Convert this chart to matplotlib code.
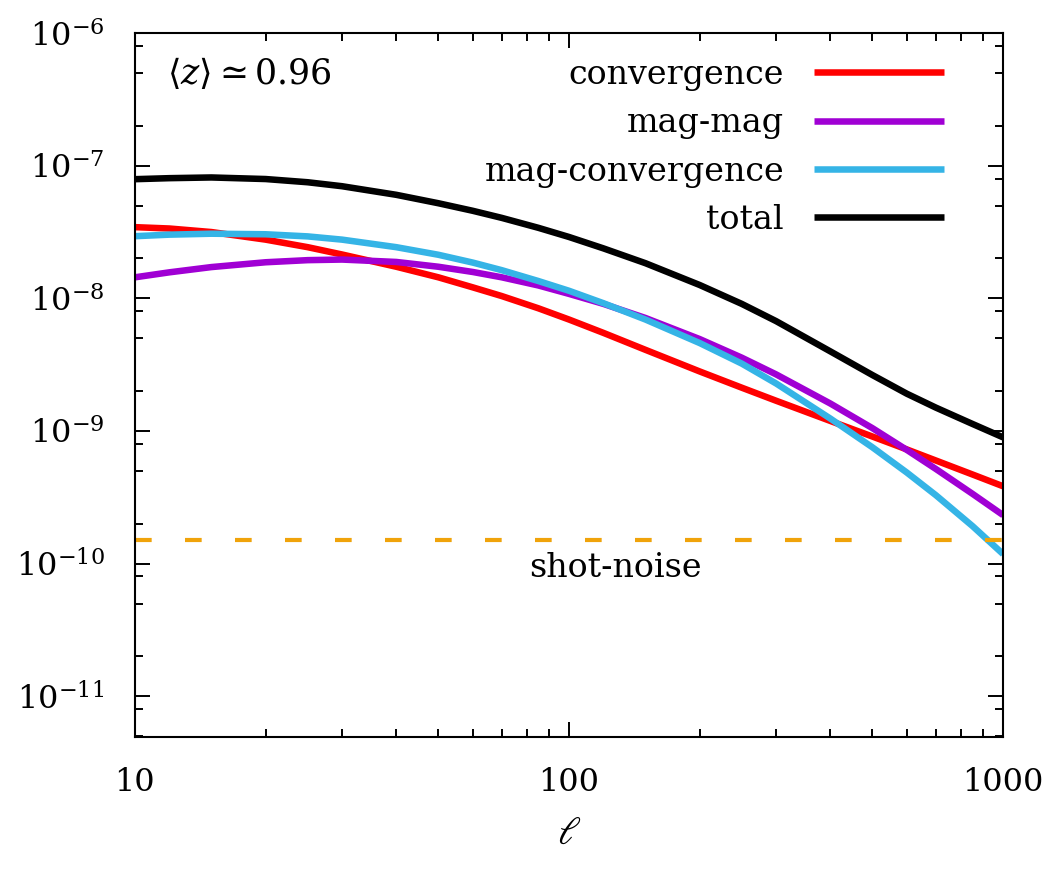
import numpy as np
import matplotlib
matplotlib.use("Agg")
import matplotlib.pyplot as plt
from matplotlib.ticker import LogLocator, FixedLocator, FixedFormatter, NullFormatter

plt.rcParams.update({
    "font.family": "DejaVu Serif",
    "mathtext.fontset": "dejavuserif",
    "axes.linewidth": 1.5,
})

# multipoles and angular power spectra
ell = [10, 12, 15, 20, 25, 30, 40, 50, 60, 70, 85, 100, 120, 150, 200, 250,
       300, 400, 500, 600, 700, 850, 1000]
c_conv = [3.44e-8, 3.36e-8, 3.16e-8, 2.77e-8, 2.43e-8, 2.14e-8, 1.73e-8,
          1.44e-8, 1.21e-8, 1.04e-8, 8.41e-9, 6.92e-9, 5.49e-9, 4.09e-9,
          2.81e-9, 2.12e-9, 1.69e-9, 1.19e-9, 9.08e-10, 7.26e-10, 5.99e-10,
          4.70e-10, 3.83e-10]
c_magmag = [1.44e-8, 1.57e-8, 1.72e-8, 1.87e-8, 1.94e-8, 1.96e-8, 1.88e-8,
            1.73e-8, 1.58e-8, 1.44e-8, 1.25e-8, 1.08e-8, 9.08e-9, 7.11e-9,
            4.93e-9, 3.57e-9, 2.67e-9, 1.61e-9, 1.05e-9, 7.20e-10, 5.17e-10,
            3.36e-10, 2.32e-10]
c_magconv = [2.94e-8, 3.02e-8, 3.07e-8, 3.04e-8, 2.93e-8, 2.77e-8, 2.43e-8,
             2.13e-8, 1.86e-8, 1.63e-8, 1.35e-8, 1.14e-8, 9.19e-9, 6.92e-9,
             4.60e-9, 3.22e-9, 2.28e-9, 1.24e-9, 7.53e-10, 4.86e-10, 3.28e-10,
             1.92e-10, 1.18e-10]
c_total = [7.91e-8, 8.05e-8, 8.15e-8, 7.93e-8, 7.50e-8, 7.00e-8, 6.03e-8,
           5.21e-8, 4.57e-8, 4.04e-8, 3.40e-8, 2.90e-8, 2.38e-8, 1.84e-8,
           1.26e-8, 9.08e-9, 6.73e-9, 3.98e-9, 2.64e-9, 1.91e-9, 1.50e-9,
           1.13e-9, 8.95e-10]
shot_noise = 1.5e-10

series = [("convergence", c_conv, "#ff0000"),
          ("mag-mag", c_magmag, "#a000d4"),
          ("mag-convergence", c_magconv, "#35b4e6"),
          ("total", c_total, "#000000")]

fig = plt.figure(figsize=(10.46, 8.69), dpi=100)
ax = fig.add_axes([0.129, 0.152, 0.830, 0.810])

for name, vals, col in series:
    ax.plot(ell, vals, color=col, lw=4.7, label=name, solid_capstyle="butt",
            solid_joinstyle="round")

ax.axhline(shot_noise, color="#f0a30a", lw=3, dashes=(4, 8))
ax.text(128, 9.3e-11, "shot-noise", ha="center", va="center", fontsize=24)
ax.text(0.037, 0.943, r"$\langle z\rangle \simeq 0.96$", transform=ax.transAxes,
        ha="left", va="center", fontsize=25)

ax.set_xscale("log"); ax.set_yscale("log")
ax.set_xlim(10, 1000); ax.set_ylim(4.94e-12, 1e-6)

ax.xaxis.set_major_locator(FixedLocator([10, 100, 1000]))
ax.xaxis.set_major_formatter(FixedFormatter(["10", "100", "1000"]))
ax.xaxis.set_minor_locator(LogLocator(base=10, subs=np.arange(2, 10)))
ax.xaxis.set_minor_formatter(NullFormatter())
ax.yaxis.set_major_locator(FixedLocator([1e-11, 1e-10, 1e-9, 1e-8, 1e-7, 1e-6]))
ax.yaxis.set_minor_locator(LogLocator(base=10, subs=(2, 5, 8), numticks=20))
ax.yaxis.set_minor_formatter(NullFormatter())

ax.tick_params(which="both", direction="in", top=True, right=True,
               labelsize=23, pad=22, width=1.4)
ax.tick_params(which="major", length=11)
ax.tick_params(which="minor", length=6)

ax.set_xlabel(r"$\ell$", fontsize=28, labelpad=12)

leg = ax.legend(loc="upper right", bbox_to_anchor=(0.932, 0.963),
                frameon=False, markerfirst=False, fontsize=24,
                handlelength=3.9, handletextpad=0.9, labelspacing=0.49,
                borderpad=0, borderaxespad=0)

fig.savefig("out.png", dpi=100)
